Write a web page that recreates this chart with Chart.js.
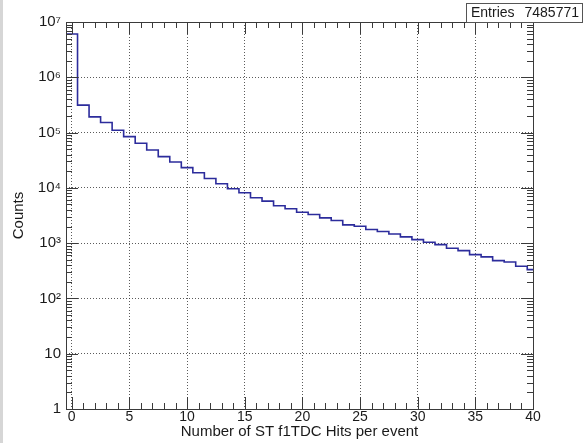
<!DOCTYPE html>
<html>
<head>
<meta charset="utf-8">
<title>ST f1TDC hits per event</title>
<script src="https://cdn.jsdelivr.net/npm/chart.js@4.4.1/dist/chart.umd.min.js"></script>
<style>
    html, body { margin: 0; padding: 0; background: #fff; }
    #wrap { position: relative; width: 585px; height: 443px; }
</style>
</head>
<body>
<div id="wrap"><canvas id="hitsChart" width="585" height="443"></canvas></div>
<script>
// Histogram data (bin centres = number of hits)
const binCenters = [0, 1, 2, 3, 4, 5, 6, 7, 8, 9, 10, 11, 12, 13, 14, 15, 16, 17, 18, 19, 20,
    21, 22, 23, 24, 25, 26, 27, 28, 29, 30, 31, 32, 33, 34, 35, 36, 37, 38, 39, 40];
const binCounts = [6070000, 313000, 192000, 152000, 110000, 84600, 64000, 48300, 36700, 29300, 23200,
    18800, 14800, 11900, 9640, 8160, 6620, 5750, 4740, 4190, 3630,
    3300, 2870, 2570, 2140, 2020, 1760, 1620, 1460, 1300, 1160,
    1040, 942, 807, 733, 621, 564, 483, 457, 381, 332];

// Axis ticks
const xTickValues = [0, 5, 10, 15, 20, 25, 30, 35, 40];
const yTickValues = [1, 10, 100, 1000, 10000, 100000, 1000000, 10000000];
const yTickLabels = ['1', '10', '10\u00B2', '10\u00B3', '10\u2074', '10\u2075', '10\u2076', '10\u2077'];

const ENTRIES = 7485771;

const FONT = 'Liberation Sans, Arial, Helvetica, sans-serif';
const COLORS = {
    line: '#2c2c9c',
    frame: '#3a3a3a',
    grid: 'rgba(50, 50, 50, 0.8)',
    text: '#1a1a1a',
    strip: '#d6d6d6'
};

// ROOT style histogram: each bin drawn from its left edge, flat to the next edge
const histPoints = binCenters.map((c, i) => ({ x: c - 0.5, y: binCounts[i] }));
histPoints.push({ x: binCenters[binCenters.length - 1] + 0.5, y: binCounts[binCounts.length - 1] });

// Background, frame, inner tick marks and the stats box
const rootStylePlugin = {
    id: 'rootStyle',
    beforeDraw(chart) {
        const ctx = chart.ctx;
        ctx.save();
        ctx.fillStyle = '#fff';
        ctx.fillRect(0, 0, chart.width, chart.height);
        ctx.fillStyle = COLORS.strip;
        ctx.fillRect(0, 0, 3, chart.height);
        ctx.restore();
    },
    afterDraw(chart) {
        const ctx = chart.ctx;
        const area = chart.chartArea;
        const xs = chart.scales.x;
        const ys = chart.scales.y;

        ctx.save();
        ctx.strokeStyle = COLORS.frame;
        ctx.lineWidth = 1;
        ctx.beginPath();

        // x ticks on bottom and top
        binCenters.forEach(v => {
            if (v < xs.min || v > xs.max) return;
            const px = Math.round(xs.getPixelForValue(v)) + 0.5;
            const len = v % 5 === 0 ? 12 : 6;
            ctx.moveTo(px, area.bottom);
            ctx.lineTo(px, area.bottom - len);
            ctx.moveTo(px, area.top);
            ctx.lineTo(px, area.top + len);
        });

        // y ticks on left and right (decades + 2..9 minors)
        yTickValues.forEach((dec, i) => {
            const marks = [dec];
            if (i < yTickValues.length - 1) {
                for (let m = 2; m <= 9; m++) marks.push(dec * m);
            }
            marks.forEach(v => {
                const py = Math.round(ys.getPixelForValue(v)) + 0.5;
                const len = v === dec ? 12 : 6;
                ctx.moveTo(area.left, py);
                ctx.lineTo(area.left + len, py);
                ctx.moveTo(area.right, py);
                ctx.lineTo(area.right - len, py);
            });
        });
        ctx.stroke();

        // frame
        ctx.strokeStyle = COLORS.frame;
        ctx.strokeRect(Math.round(area.left) + 0.5, Math.round(area.top) + 0.5,
            Math.round(area.right - area.left), Math.round(area.bottom - area.top));

        // stats box
        const bx = 466, by = 3, bw = 116, bh = 19;
        ctx.fillStyle = '#fff';
        ctx.fillRect(bx, by, bw, bh);
        ctx.strokeStyle = '#555';
        ctx.strokeRect(bx + 0.5, by + 0.5, bw, bh);
        ctx.fillStyle = COLORS.text;
        ctx.font = '14px ' + FONT;
        ctx.textBaseline = 'middle';
        ctx.textAlign = 'left';
        ctx.fillText('Entries', bx + 5, by + bh / 2 + 1);
        ctx.textAlign = 'right';
        ctx.fillText(String(ENTRIES), bx + bw - 3, by + bh / 2 + 1);
        ctx.restore();
    }
};

new Chart(document.getElementById('hitsChart').getContext('2d'), {
    type: 'line',
    data: {
        datasets: [{
            label: 'Hits',
            data: histPoints,
            stepped: 'before',
            borderColor: COLORS.line,
            borderWidth: 1.6,
            pointRadius: 0,
            fill: false
        }]
    },
    options: {
        responsive: false,
        animation: false,
        devicePixelRatio: 1,
        layout: {
            padding: { left: 0, right: 52, top: 22, bottom: 0 }
        },
        plugins: {
            legend: { display: false },
            tooltip: { enabled: false }
        },
        scales: {
            x: {
                type: 'linear',
                min: -0.5,
                max: 40,
                afterBuildTicks: scale => {
                    scale.ticks = xTickValues.map(v => ({ value: v }));
                },
                afterFit: scale => { scale.height = 34; },
                ticks: {
                    padding: 0,
                    maxRotation: 0,
                    color: COLORS.text,
                    font: { family: FONT, size: 14 }
                },
                grid: {
                    color: COLORS.grid,
                    lineWidth: 1,
                    drawTicks: false
                },
                border: { display: false, dash: [1, 2] },
                title: {
                    display: true,
                    text: 'Number of ST f1TDC Hits per event',
                    color: COLORS.text,
                    font: { family: FONT, size: 15 },
                    padding: { top: 0, bottom: 2 }
                }
            },
            y: {
                type: 'logarithmic',
                min: 1,
                max: 10000000,
                afterBuildTicks: scale => {
                    scale.ticks = yTickValues.map(v => ({ value: v }));
                },
                afterFit: scale => { scale.width = 66; },
                ticks: {
                    padding: 5,
                    color: COLORS.text,
                    font: { family: FONT, size: 15 },
                    callback: value => {
                        const i = yTickValues.indexOf(value);
                        return i >= 0 ? yTickLabels[i] : '';
                    }
                },
                grid: {
                    color: COLORS.grid,
                    lineWidth: 1,
                    drawTicks: false
                },
                border: { display: false, dash: [1, 2] },
                title: {
                    display: true,
                    text: 'Counts',
                    color: COLORS.text,
                    font: { family: FONT, size: 15 },
                    padding: { top: 10, bottom: 2 }
                }
            }
        }
    },
    plugins: [rootStylePlugin]
});
</script>
</body>
</html>
